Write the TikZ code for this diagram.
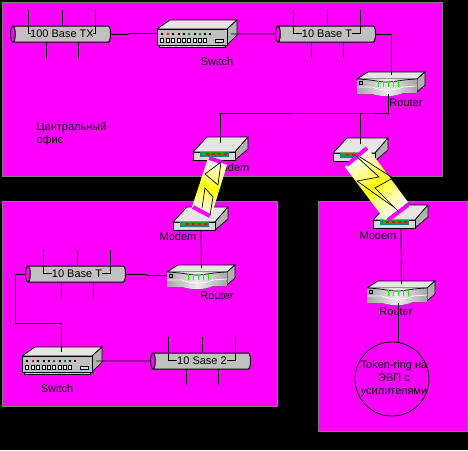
\documentclass[tikz,border=0pt]{standalone}
\usepackage{fontspec}
\setmainfont{Liberation Sans}
\usepackage{tikz}
\usetikzlibrary{shapes.geometric,calc}

\definecolor{panelpink}{RGB}{255,0,255}
\definecolor{busgray}{RGB}{192,192,192}
\definecolor{teal}{RGB}{0,140,140}
\definecolor{paleyellow}{RGB}{255,255,130}

\pgfdeclareverticalshading{linkfade}{100bp}{color(0bp)=(white); color(24bp)=(white); color(40bp)=(paleyellow); color(50bp)=(yellow); color(60bp)=(paleyellow); color(76bp)=(white); color(100bp)=(white)}

\tikzset{
  pics/switchdev/.style={code={
    \draw[devline, fill=busgray!80] (2,16) rectangle (68,18);
    \draw[devline, fill=gray!20] (0,0) -- (13,-9) -- (80,-9) -- (70,0) -- cycle;
    \draw[devline, fill=gray!60] (70,0) -- (80,-9) -- (80,6) -- (70,16) -- cycle;
    \draw[devline, fill=busgray] (0,0) rectangle (70,16);
    \foreach \xi/\ledc in {4/black,10/red,15/black,21/black,26/black,31/green!50!black,37/black,42/green!50!black,47/black,52/black}
      \fill[\ledc] (\xi,4) rectangle ++(1.5,1.5);
    \foreach \xi in {3,9,14,20,25,30,36,41,46}
      \draw[black, fill=white, line width=.5pt] (\xi,9) rectangle ++(3.5,4);
    \draw[black, fill=busgray!50, line width=.5pt] (58,10) rectangle ++(8,3);
    \coordinate (-top) at (39.5,-4);
    \coordinate (-west) at (0,4);
    \coordinate (-east) at (74,5);
  }},
  pics/routerdev/.style={code={
    \draw[devline, fill=gray!20] (0,0) -- (11,-7) -- (68,-7) -- (60,0) -- cycle;
    \draw[devline, fill=gray!60] (60,0) -- (68,-7) -- (68,6) -- (60,13) -- cycle;
    \fill[left color=gray!70, right color=gray!70, middle color=gray!15]
      (0,0) -- (60,0) -- (60,14) -- (46,14) .. controls (38,18) and (24,18) .. (15,15) -- (0,15) -- cycle;
    \draw[devline] (0,0) .. controls (20,1) and (20,3) .. (30,3) .. controls (40,3) and (40,1) .. (60,0);
    \draw[white, line width=.7pt] (0,8) -- (15,8) .. controls (24,12) and (38,12) .. (46,8) -- (60,7);
    \foreach \xi in {21,26,31,36,41}
      \draw[green, line width=.8pt] (\xi,2) -- (\xi,8);
    \draw[black, fill=blue!40, line width=.5pt] (2,2) rectangle ++(3,3);
    \coordinate (-top) at (34.5,-4);
    \coordinate (-west) at (0,3);
    \coordinate (-bot) at (31,15);
  }},
  pics/modemdev/.style={code={
    \draw[devline, fill=gray!20] (0,0) -- (14,-15) -- (55,-15) -- (42,0) -- cycle;
    \draw[devline, fill=gray!60] (42,0) -- (55,-15) -- (55,-3) -- (42,8) -- cycle;
    \draw[devline, fill=busgray!60] (0,0) rectangle (42,8);
    \fill[teal] (7,0) rectangle (36,5);
    \fill[green!70!black] (9,0) rectangle (33,2.5);
    \foreach \xi in {13,19,25,31}
      \fill[red] (\xi,0.5) rectangle ++(2.5,2);
    \coordinate (-top) at (27.5,-9);
    \coordinate (-bot) at (28,8);
  }},
  pics/busstubs/.style={code={
    \draw[wire] (-33.5,-24) |- (-#1,-0.5);
    \draw[wire] (33.5,-24) |- (#1,-0.5);
    \draw[wire] (0,-24) -- (0,-8);
    \draw[wire] (-16,24) -- (-16,8);
    \draw[wire] (16.5,24) -- (16.5,8);
  }},
}

\begin{document}
\begin{tikzpicture}[
    x=1pt, y=-1pt,
    every node/.style={font=\fontsize{11}{13}\selectfont, text=black},
    panel/.style={fill=panelpink, draw=gray, line width=1pt},
    wire/.style={draw=black, line width=.9pt},
    devline/.style={draw=black, line width=.7pt},
    bus/.style={cylinder, shape border rotate=180, aspect=.6, draw=black,
                line width=1pt, cylinder uses custom fill,
                cylinder body fill=busgray, cylinder end fill=panelpink,
                minimum width=16pt, minimum height=100pt, inner sep=0pt},
    ring/.style={circle, draw=black, line width=.8pt, minimum size=74pt, inner sep=0pt},
    linkband/.style={shading=linkfade},
    linkcap/.style={draw=panelpink, line width=4pt},
    bolt/.style={draw=black, line width=.7pt},
  ]
  \fill[black] (0,0) rectangle (468,450);
  \useasboundingbox (0,0) rectangle (468,450);
  \draw[panel] (2,2) rectangle (442,176);
  \draw[panel] (2,201) rectangle (277,406);
  \draw[panel] (318,201) rectangle (467,431);

  % buses
  \node[bus] (bustx) at (62,34) {100 Base TX};
  \node[bus] (busa) at (327,34) {10 Base T};
  \node[bus] (busb) at (77,274) {10 Base T};
  \node[bus] (busc) at (202,361) {10 Sase 2};
  \pic at (62,34) {busstubs=31};
  \pic at (327,34) {busstubs=25};
  \pic at (77,274) {busstubs=25};
  \pic at (202,361) {busstubs=25};

  % devices
  \pic (swa) at (157,29) {switchdev};
  \pic (swb) at (22,356) {switchdev};
  \pic (rta) at (357,79) {routerdev};
  \pic (rtb) at (167,272) {routerdev};
  \pic (rtc) at (367,288) {routerdev};
  \pic (mda) at (193,152) {modemdev};
  \pic (mdb) at (333,153) {modemdev};
  \pic (mdc) at (173,222) {modemdev};
  \pic (mdd) at (373,220) {modemdev};
  \node[ring] (tok) at (392,379) {};

  % labels
  \node (lblswa) at (217,62) {Switch};
  \node (lblswb) at (57,389) {Switch};
  \node (lblrta) at (406,103) {Router};
  \node (lblrtb) at (217,296) {Router};
  \node (lblrtc) at (396,312) {Router};
  \node (lblmda) at (231,168) {Modem};
  \node (lblmdc) at (178,237) {Modem};
  \node (lblmdd) at (378,236) {Modem};
  \node[align=left, anchor=west] (office) at (33,134.5) {Центральный\\офис};
  \node[align=center] (toktxt) at (394,379) {Token-ring на\\ЭВП  с\\усилителями};

  % wires
  \coordinate (jn) at (360.5,113);
  \coordinate (bendb) at (15,323);
  \draw[wire] (bustx.east) -- ++(17,0) |- (swa-west);
  \draw[wire] (swa-east) -- (busa.west);
  \draw[wire] (busa.east) -| (rta-top);
  \draw[wire] (rta-bot) |- (jn) -| (mda-top);
  \draw[wire] (jn) -- (mdb-top);
  \draw[wire] (mdc-bot) -- (rtb-top);
  \draw[wire] (mdd-bot) -- (rtc-top);
  \draw[wire] (rtc-bot) -- (rtc-bot |- tok.north);
  \draw[wire] (busb.east) -- ++(20,0) |- (rtb-west);
  \draw[wire] (busb.west) -| (bendb) -| (swb-top);
  \draw[wire] (swb-east) -- (busc.west);

  % radio links
  \path[linkband, shading angle=-15] (208,158) -- (227,165) -- (211,217) -- (192,207) -- cycle;
  \draw[linkcap] (209,158) -- (221,162);
  \draw[linkcap] (193,207) -- (210,216);
  \draw[bolt] (221,162) -- (205,174) -- (218,185) -- cycle;
  \draw[bolt] (202,208) -- (205,188) -- (213,197) -- (210,215);

  \path[linkband, shading angle=37] (345,167) -- (367,147) -- (408,202) -- (385,220) -- cycle;
  \draw[linkcap] (347,165) -- (367,148);
  \draw[linkcap] (388,220) -- (408,205);
  \draw[bolt] (355,155) -- (379,177) -- (357,181) -- (395,208);
  \draw[bolt] (360,157) -- (393,178) -- (375,188) -- (399,212);
\end{tikzpicture}
\end{document}
